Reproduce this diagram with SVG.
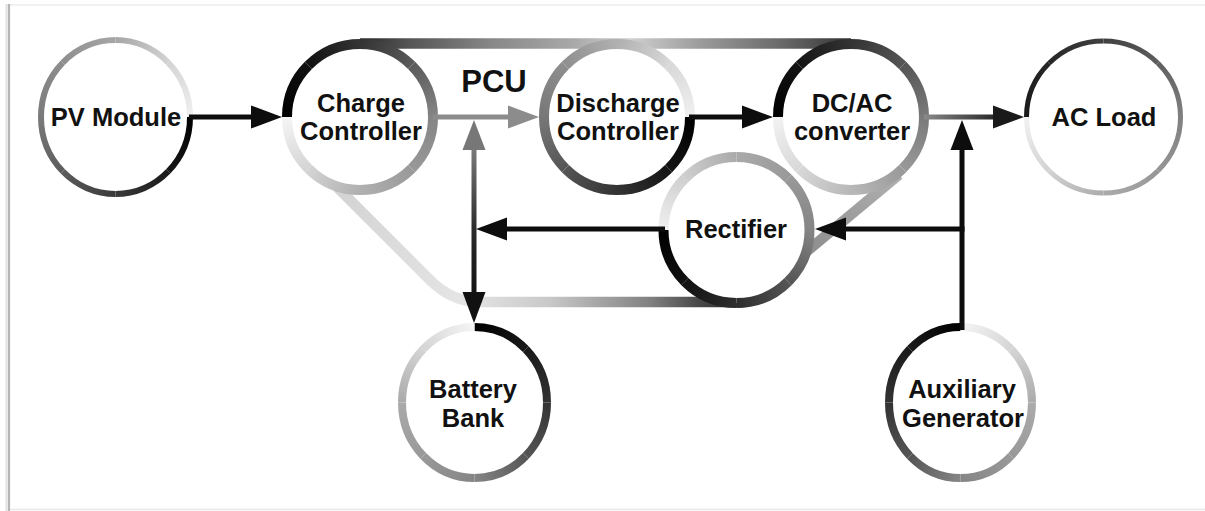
<svg xmlns="http://www.w3.org/2000/svg" width="1205" height="511" viewBox="0 0 1205 511">
<style>
.lbl{font-family:"Liberation Sans",Arial,sans-serif;font-weight:bold;font-size:25.5px;fill:#111;text-anchor:middle}
.pcu{font-family:"Liberation Sans",Arial,sans-serif;font-weight:bold;font-size:31px;fill:#111;text-anchor:middle}
.s10{fill:none;stroke-width:10}
.s8{fill:none;stroke-width:8}
.s6{fill:none;stroke-width:6}
.s5{fill:none;stroke-width:5}
.band{fill:none;stroke-width:10.5}
.ln{fill:none;stroke-width:5}
.bk{stroke:#0d0d0d}
.hbk{fill:#0d0d0d}
.fill{fill:#fff;stroke:none}
</style>
<defs>
<!-- PV -->
<linearGradient id="v0" gradientUnits="userSpaceOnUse" x1="190" y1="117" x2="168.18" y2="171.45"><stop offset="0" stop-color="#000"/><stop offset="1" stop-color="#181818"/></linearGradient>
<linearGradient id="v1" gradientUnits="userSpaceOnUse" x1="168.18" y1="171.45" x2="115.5" y2="194"><stop offset="0" stop-color="#181818"/><stop offset="1" stop-color="#3a3a3a"/></linearGradient>
<linearGradient id="v2" gradientUnits="userSpaceOnUse" x1="115.5" y1="194" x2="62.82" y2="171.45"><stop offset="0" stop-color="#3a3a3a"/><stop offset="1" stop-color="#5c5c5c"/></linearGradient>
<linearGradient id="v3" gradientUnits="userSpaceOnUse" x1="62.82" y1="171.45" x2="41" y2="117"><stop offset="0" stop-color="#5c5c5c"/><stop offset="1" stop-color="#7a7a7a"/></linearGradient>
<linearGradient id="v4" gradientUnits="userSpaceOnUse" x1="41" y1="117" x2="62.82" y2="62.55"><stop offset="0" stop-color="#7a7a7a"/><stop offset="1" stop-color="#8e8e8e"/></linearGradient>
<linearGradient id="v5" gradientUnits="userSpaceOnUse" x1="62.82" y1="62.55" x2="115.5" y2="40"><stop offset="0" stop-color="#8e8e8e"/><stop offset="1" stop-color="#a6a6a6"/></linearGradient>
<linearGradient id="v6" gradientUnits="userSpaceOnUse" x1="115.5" y1="40" x2="168.18" y2="62.55"><stop offset="0" stop-color="#a6a6a6"/><stop offset="1" stop-color="#d4d4d4"/></linearGradient>
<linearGradient id="v7" gradientUnits="userSpaceOnUse" x1="168.18" y1="62.55" x2="190" y2="117"><stop offset="0" stop-color="#d4d4d4"/><stop offset="1" stop-color="#f0f0f0"/></linearGradient>
<!-- Charge -->
<linearGradient id="c0" gradientUnits="userSpaceOnUse" x1="287" y1="117" x2="308.38" y2="65.38"><stop offset="0" stop-color="#000"/><stop offset="1" stop-color="#111"/></linearGradient>
<linearGradient id="c1" gradientUnits="userSpaceOnUse" x1="308.38" y1="65.38" x2="360" y2="44"><stop offset="0" stop-color="#111"/><stop offset="1" stop-color="#333"/></linearGradient>
<linearGradient id="c2" gradientUnits="userSpaceOnUse" x1="360" y1="44" x2="411.62" y2="65.38"><stop offset="0" stop-color="#333"/><stop offset="1" stop-color="#5a5a5a"/></linearGradient>
<linearGradient id="c3" gradientUnits="userSpaceOnUse" x1="411.62" y1="65.38" x2="433" y2="117"><stop offset="0" stop-color="#5a5a5a"/><stop offset="1" stop-color="#858585"/></linearGradient>
<linearGradient id="c4" gradientUnits="userSpaceOnUse" x1="433" y1="117" x2="411.62" y2="168.62"><stop offset="0" stop-color="#858585"/><stop offset="1" stop-color="#999"/></linearGradient>
<linearGradient id="c5" gradientUnits="userSpaceOnUse" x1="411.62" y1="168.62" x2="360" y2="190"><stop offset="0" stop-color="#999"/><stop offset="1" stop-color="#b0b0b0"/></linearGradient>
<linearGradient id="c6" gradientUnits="userSpaceOnUse" x1="360" y1="190" x2="308.38" y2="168.62"><stop offset="0" stop-color="#b0b0b0"/><stop offset="1" stop-color="#d4d4d4"/></linearGradient>
<linearGradient id="c7" gradientUnits="userSpaceOnUse" x1="308.38" y1="168.62" x2="287" y2="117"><stop offset="0" stop-color="#d4d4d4"/><stop offset="1" stop-color="#f5f5f5"/></linearGradient>
<!-- Discharge -->
<linearGradient id="d0" gradientUnits="userSpaceOnUse" x1="690" y1="117" x2="668.62" y2="168.62"><stop offset="0" stop-color="#000"/><stop offset="1" stop-color="#141414"/></linearGradient>
<linearGradient id="d1" gradientUnits="userSpaceOnUse" x1="668.62" y1="168.62" x2="617" y2="190"><stop offset="0" stop-color="#141414"/><stop offset="1" stop-color="#333"/></linearGradient>
<linearGradient id="d2" gradientUnits="userSpaceOnUse" x1="617" y1="190" x2="565.38" y2="168.62"><stop offset="0" stop-color="#333"/><stop offset="1" stop-color="#555"/></linearGradient>
<linearGradient id="d3" gradientUnits="userSpaceOnUse" x1="565.38" y1="168.62" x2="544" y2="117"><stop offset="0" stop-color="#555"/><stop offset="1" stop-color="#777"/></linearGradient>
<linearGradient id="d4" gradientUnits="userSpaceOnUse" x1="544" y1="117" x2="565.38" y2="65.38"><stop offset="0" stop-color="#777"/><stop offset="1" stop-color="#8f8f8f"/></linearGradient>
<linearGradient id="d5" gradientUnits="userSpaceOnUse" x1="565.38" y1="65.38" x2="617" y2="44"><stop offset="0" stop-color="#8f8f8f"/><stop offset="1" stop-color="#b0b0b0"/></linearGradient>
<linearGradient id="d6" gradientUnits="userSpaceOnUse" x1="617" y1="44" x2="668.62" y2="65.38"><stop offset="0" stop-color="#b0b0b0"/><stop offset="1" stop-color="#d8d8d8"/></linearGradient>
<linearGradient id="d7" gradientUnits="userSpaceOnUse" x1="668.62" y1="65.38" x2="690" y2="117"><stop offset="0" stop-color="#d8d8d8"/><stop offset="1" stop-color="#f0f0f0"/></linearGradient>
<!-- DC/AC -->
<linearGradient id="e0" gradientUnits="userSpaceOnUse" x1="778" y1="117" x2="799.38" y2="65.38"><stop offset="0" stop-color="#000"/><stop offset="1" stop-color="#141414"/></linearGradient>
<linearGradient id="e1" gradientUnits="userSpaceOnUse" x1="799.38" y1="65.38" x2="851" y2="44"><stop offset="0" stop-color="#141414"/><stop offset="1" stop-color="#333"/></linearGradient>
<linearGradient id="e2" gradientUnits="userSpaceOnUse" x1="851" y1="44" x2="902.62" y2="65.38"><stop offset="0" stop-color="#333"/><stop offset="1" stop-color="#555"/></linearGradient>
<linearGradient id="e3" gradientUnits="userSpaceOnUse" x1="902.62" y1="65.38" x2="924" y2="117"><stop offset="0" stop-color="#555"/><stop offset="1" stop-color="#7a7a7a"/></linearGradient>
<linearGradient id="e4" gradientUnits="userSpaceOnUse" x1="924" y1="117" x2="902.62" y2="168.62"><stop offset="0" stop-color="#7a7a7a"/><stop offset="1" stop-color="#999"/></linearGradient>
<linearGradient id="e5" gradientUnits="userSpaceOnUse" x1="902.62" y1="168.62" x2="851" y2="190"><stop offset="0" stop-color="#999"/><stop offset="1" stop-color="#b8b8b8"/></linearGradient>
<linearGradient id="e6" gradientUnits="userSpaceOnUse" x1="851" y1="190" x2="799.38" y2="168.62"><stop offset="0" stop-color="#b8b8b8"/><stop offset="1" stop-color="#d8d8d8"/></linearGradient>
<linearGradient id="e7" gradientUnits="userSpaceOnUse" x1="799.38" y1="168.62" x2="778" y2="117"><stop offset="0" stop-color="#d8d8d8"/><stop offset="1" stop-color="#f2f2f2"/></linearGradient>
<!-- AC Load -->
<linearGradient id="l0" gradientUnits="userSpaceOnUse" x1="1026.5" y1="117" x2="1049.05" y2="63.26"><stop offset="0" stop-color="#1a1a1a"/><stop offset="1" stop-color="#262626"/></linearGradient>
<linearGradient id="l1" gradientUnits="userSpaceOnUse" x1="1049.05" y1="63.26" x2="1103.5" y2="41"><stop offset="0" stop-color="#262626"/><stop offset="1" stop-color="#404040"/></linearGradient>
<linearGradient id="l2" gradientUnits="userSpaceOnUse" x1="1103.5" y1="41" x2="1157.95" y2="63.26"><stop offset="0" stop-color="#404040"/><stop offset="1" stop-color="#5e5e5e"/></linearGradient>
<linearGradient id="l3" gradientUnits="userSpaceOnUse" x1="1157.95" y1="63.26" x2="1180.5" y2="117"><stop offset="0" stop-color="#5e5e5e"/><stop offset="1" stop-color="#808080"/></linearGradient>
<linearGradient id="l4" gradientUnits="userSpaceOnUse" x1="1180.5" y1="117" x2="1157.95" y2="170.74"><stop offset="0" stop-color="#808080"/><stop offset="1" stop-color="#969696"/></linearGradient>
<linearGradient id="l5" gradientUnits="userSpaceOnUse" x1="1157.95" y1="170.74" x2="1103.5" y2="193"><stop offset="0" stop-color="#969696"/><stop offset="1" stop-color="#ababab"/></linearGradient>
<linearGradient id="l6" gradientUnits="userSpaceOnUse" x1="1103.5" y1="193" x2="1049.05" y2="170.74"><stop offset="0" stop-color="#ababab"/><stop offset="1" stop-color="#d2d2d2"/></linearGradient>
<linearGradient id="l7" gradientUnits="userSpaceOnUse" x1="1049.05" y1="170.74" x2="1026.5" y2="117"><stop offset="0" stop-color="#d2d2d2"/><stop offset="1" stop-color="#f2f2f2"/></linearGradient>
<!-- Rectifier -->
<linearGradient id="r0" gradientUnits="userSpaceOnUse" x1="663.5" y1="230" x2="684.88" y2="281.62"><stop offset="0" stop-color="#000"/><stop offset="1" stop-color="#111"/></linearGradient>
<linearGradient id="r1" gradientUnits="userSpaceOnUse" x1="684.88" y1="281.62" x2="736.5" y2="303"><stop offset="0" stop-color="#111"/><stop offset="1" stop-color="#2e2e2e"/></linearGradient>
<linearGradient id="r2" gradientUnits="userSpaceOnUse" x1="736.5" y1="303" x2="788.12" y2="281.62"><stop offset="0" stop-color="#2e2e2e"/><stop offset="1" stop-color="#555"/></linearGradient>
<linearGradient id="r3" gradientUnits="userSpaceOnUse" x1="788.12" y1="281.62" x2="809.5" y2="230"><stop offset="0" stop-color="#555"/><stop offset="1" stop-color="#858585"/></linearGradient>
<linearGradient id="r4" gradientUnits="userSpaceOnUse" x1="809.5" y1="230" x2="788.12" y2="178.38"><stop offset="0" stop-color="#858585"/><stop offset="1" stop-color="#999"/></linearGradient>
<linearGradient id="r5" gradientUnits="userSpaceOnUse" x1="788.12" y1="178.38" x2="736.5" y2="157"><stop offset="0" stop-color="#999"/><stop offset="1" stop-color="#aaa"/></linearGradient>
<linearGradient id="r6" gradientUnits="userSpaceOnUse" x1="736.5" y1="157" x2="684.88" y2="178.38"><stop offset="0" stop-color="#aaa"/><stop offset="1" stop-color="#cfcfcf"/></linearGradient>
<linearGradient id="r7" gradientUnits="userSpaceOnUse" x1="684.88" y1="178.38" x2="663.5" y2="230"><stop offset="0" stop-color="#cfcfcf"/><stop offset="1" stop-color="#f0f0f0"/></linearGradient>
<!-- Battery -->
<linearGradient id="b0" gradientUnits="userSpaceOnUse" x1="474.5" y1="327" x2="525.76" y2="349.11"><stop offset="0" stop-color="#000"/><stop offset="1" stop-color="#1a1a1a"/></linearGradient>
<linearGradient id="b1" gradientUnits="userSpaceOnUse" x1="525.76" y1="349.11" x2="547" y2="402.5"><stop offset="0" stop-color="#1a1a1a"/><stop offset="1" stop-color="#333"/></linearGradient>
<linearGradient id="b2" gradientUnits="userSpaceOnUse" x1="547" y1="402.5" x2="525.76" y2="455.89"><stop offset="0" stop-color="#333"/><stop offset="1" stop-color="#555"/></linearGradient>
<linearGradient id="b3" gradientUnits="userSpaceOnUse" x1="525.76" y1="455.89" x2="474.5" y2="478"><stop offset="0" stop-color="#555"/><stop offset="1" stop-color="#858585"/></linearGradient>
<linearGradient id="b4" gradientUnits="userSpaceOnUse" x1="474.5" y1="478" x2="423.24" y2="455.89"><stop offset="0" stop-color="#858585"/><stop offset="1" stop-color="#999"/></linearGradient>
<linearGradient id="b5" gradientUnits="userSpaceOnUse" x1="423.24" y1="455.89" x2="402" y2="402.5"><stop offset="0" stop-color="#999"/><stop offset="1" stop-color="#aaa"/></linearGradient>
<linearGradient id="b6" gradientUnits="userSpaceOnUse" x1="402" y1="402.5" x2="423.24" y2="349.11"><stop offset="0" stop-color="#aaa"/><stop offset="1" stop-color="#d5d5d5"/></linearGradient>
<linearGradient id="b7" gradientUnits="userSpaceOnUse" x1="423.24" y1="349.11" x2="474.5" y2="327"><stop offset="0" stop-color="#d5d5d5"/><stop offset="1" stop-color="#f5f5f5"/></linearGradient>
<!-- Aux -->
<linearGradient id="x0" gradientUnits="userSpaceOnUse" x1="960.5" y1="327" x2="909.94" y2="349.11"><stop offset="0" stop-color="#000"/><stop offset="1" stop-color="#1a1a1a"/></linearGradient>
<linearGradient id="x1" gradientUnits="userSpaceOnUse" x1="909.94" y1="349.11" x2="889" y2="402.5"><stop offset="0" stop-color="#1a1a1a"/><stop offset="1" stop-color="#333"/></linearGradient>
<linearGradient id="x2" gradientUnits="userSpaceOnUse" x1="889" y1="402.5" x2="909.94" y2="455.89"><stop offset="0" stop-color="#333"/><stop offset="1" stop-color="#555"/></linearGradient>
<linearGradient id="x3" gradientUnits="userSpaceOnUse" x1="909.94" y1="455.89" x2="960.5" y2="478"><stop offset="0" stop-color="#555"/><stop offset="1" stop-color="#858585"/></linearGradient>
<linearGradient id="x4" gradientUnits="userSpaceOnUse" x1="960.5" y1="478" x2="1011.06" y2="455.89"><stop offset="0" stop-color="#858585"/><stop offset="1" stop-color="#999"/></linearGradient>
<linearGradient id="x5" gradientUnits="userSpaceOnUse" x1="1011.06" y1="455.89" x2="1032" y2="402.5"><stop offset="0" stop-color="#999"/><stop offset="1" stop-color="#ababab"/></linearGradient>
<linearGradient id="x6" gradientUnits="userSpaceOnUse" x1="1032" y1="402.5" x2="1011.06" y2="349.11"><stop offset="0" stop-color="#ababab"/><stop offset="1" stop-color="#d5d5d5"/></linearGradient>
<linearGradient id="x7" gradientUnits="userSpaceOnUse" x1="1011.06" y1="349.11" x2="960.5" y2="327"><stop offset="0" stop-color="#d5d5d5"/><stop offset="1" stop-color="#f5f5f5"/></linearGradient>
<!-- PCU band -->
<linearGradient id="bandTop" gradientUnits="userSpaceOnUse" x1="360" y1="0" x2="851" y2="0"><stop offset="0" stop-color="#2a2a2a"/><stop offset="0.1" stop-color="#555"/><stop offset="0.27" stop-color="#888"/><stop offset="0.44" stop-color="#aaa"/><stop offset="0.55" stop-color="#d0d0d0"/><stop offset="0.7" stop-color="#999"/><stop offset="0.87" stop-color="#666"/><stop offset="1" stop-color="#333"/></linearGradient>
<linearGradient id="bandLeft" gradientUnits="userSpaceOnUse" x1="310" y1="160" x2="480" y2="302"><stop offset="0" stop-color="#cfcfcf"/><stop offset="1" stop-color="#e6e6e6"/></linearGradient>
<linearGradient id="bandBot" gradientUnits="userSpaceOnUse" x1="470" y1="0" x2="736" y2="0"><stop offset="0" stop-color="#e4e4e4"/><stop offset="0.3" stop-color="#c8c8c8"/><stop offset="0.55" stop-color="#999"/><stop offset="0.68" stop-color="#808080"/><stop offset="0.85" stop-color="#4a4a4a"/><stop offset="1" stop-color="#2e2e2e"/></linearGradient>
<linearGradient id="bandRight" gradientUnits="userSpaceOnUse" x1="746" y1="302" x2="899" y2="174.6"><stop offset="0" stop-color="#777"/><stop offset="1" stop-color="#b0b0b0"/></linearGradient>
<!-- connectors -->
<linearGradient id="acLine" gradientUnits="userSpaceOnUse" x1="924" y1="0" x2="1000" y2="0"><stop offset="0" stop-color="#8a8a8a"/><stop offset="1" stop-color="#222"/></linearGradient>
<linearGradient id="batLine" gradientUnits="userSpaceOnUse" x1="0" y1="148" x2="0" y2="300"><stop offset="0" stop-color="#7a7a7a"/><stop offset="0.55" stop-color="#2a2a2a"/><stop offset="1" stop-color="#111"/></linearGradient>
</defs>

<rect x="0" y="0" width="1205" height="511" fill="#fff"/>
<g id="frame">
<line x1="9" y1="5" x2="1205" y2="5" stroke="#ececec" stroke-width="1.5"/>
<line x1="9" y1="509.5" x2="1205" y2="509.5" stroke="#e8e8e8" stroke-width="1.5"/>
<line x1="6.5" y1="4" x2="6.5" y2="511" stroke="#e2e2e2" stroke-width="2"/>
<line x1="9" y1="4" x2="9" y2="511" stroke="#b5b5b5" stroke-width="2.2"/>
</g>

<g id="pcu">
<path class="band" d="M360,43.5 H851" stroke="url(#bandTop)"/>
<path class="band" d="M310,160 L430,280 Q452,302 480,302" stroke="url(#bandLeft)"/>
<path class="band" d="M479,302 H742" stroke="url(#bandBot)"/>
<path class="band" d="M746,302 L899,174.6" stroke="url(#bandRight)"/>
<text class="pcu" x="494" y="92">PCU</text>
</g>

<g id="pv-module">
<ellipse class="fill" cx="115.5" cy="117" rx="74.5" ry="77"/>
<path class="s6" stroke="url(#v0)" d="M190,117 A74.5,77 0 0 1 168.18,171.45"/>
<path class="s6" stroke="url(#v1)" d="M168.18,171.45 A74.5,77 0 0 1 115.5,194"/>
<path class="s6" stroke="url(#v2)" d="M115.5,194 A74.5,77 0 0 1 62.82,171.45"/>
<path class="s6" stroke="url(#v3)" d="M62.82,171.45 A74.5,77 0 0 1 41,117"/>
<path class="s6" stroke="url(#v4)" d="M41,117 A74.5,77 0 0 1 62.82,62.55"/>
<path class="s6" stroke="url(#v5)" d="M62.82,62.55 A74.5,77 0 0 1 115.5,40"/>
<path class="s6" stroke="url(#v6)" d="M115.5,40 A74.5,77 0 0 1 168.18,62.55"/>
<path class="s6" stroke="url(#v7)" d="M168.18,62.55 A74.5,77 0 0 1 190,117"/>
<text class="lbl" x="116" y="126">PV Module</text>
</g>

<g id="charge-controller">
<circle class="fill" cx="360" cy="117" r="73"/>
<path class="s10" stroke="url(#c0)" d="M287,117 A73,73 0 0 1 308.38,65.38"/>
<path class="s10" stroke="url(#c1)" d="M308.38,65.38 A73,73 0 0 1 360,44"/>
<path class="s10" stroke="url(#c2)" d="M360,44 A73,73 0 0 1 411.62,65.38"/>
<path class="s10" stroke="url(#c3)" d="M411.62,65.38 A73,73 0 0 1 433,117"/>
<path class="s10" stroke="url(#c4)" d="M433,117 A73,73 0 0 1 411.62,168.62"/>
<path class="s10" stroke="url(#c5)" d="M411.62,168.62 A73,73 0 0 1 360,190"/>
<path class="s10" stroke="url(#c6)" d="M360,190 A73,73 0 0 1 308.38,168.62"/>
<path class="s10" stroke="url(#c7)" d="M308.38,168.62 A73,73 0 0 1 287,117"/>
<text class="lbl" x="361" y="112">Charge</text>
<text class="lbl" x="361" y="140">Controller</text>
</g>

<g id="discharge-controller">
<circle class="fill" cx="617" cy="117" r="73"/>
<path class="s10" stroke="url(#d0)" d="M690,117 A73,73 0 0 1 668.62,168.62"/>
<path class="s10" stroke="url(#d1)" d="M668.62,168.62 A73,73 0 0 1 617,190"/>
<path class="s10" stroke="url(#d2)" d="M617,190 A73,73 0 0 1 565.38,168.62"/>
<path class="s10" stroke="url(#d3)" d="M565.38,168.62 A73,73 0 0 1 544,117"/>
<path class="s10" stroke="url(#d4)" d="M544,117 A73,73 0 0 1 565.38,65.38"/>
<path class="s10" stroke="url(#d5)" d="M565.38,65.38 A73,73 0 0 1 617,44"/>
<path class="s10" stroke="url(#d6)" d="M617,44 A73,73 0 0 1 668.62,65.38"/>
<path class="s10" stroke="url(#d7)" d="M668.62,65.38 A73,73 0 0 1 690,117"/>
<text class="lbl" x="618" y="112">Discharge</text>
<text class="lbl" x="618" y="140">Controller</text>
</g>

<g id="dc-ac-converter">
<circle class="fill" cx="851" cy="117" r="73"/>
<path class="s10" stroke="url(#e0)" d="M778,117 A73,73 0 0 1 799.38,65.38"/>
<path class="s10" stroke="url(#e1)" d="M799.38,65.38 A73,73 0 0 1 851,44"/>
<path class="s10" stroke="url(#e2)" d="M851,44 A73,73 0 0 1 902.62,65.38"/>
<path class="s10" stroke="url(#e3)" d="M902.62,65.38 A73,73 0 0 1 924,117"/>
<path class="s10" stroke="url(#e4)" d="M924,117 A73,73 0 0 1 902.62,168.62"/>
<path class="s10" stroke="url(#e5)" d="M902.62,168.62 A73,73 0 0 1 851,190"/>
<path class="s10" stroke="url(#e6)" d="M851,190 A73,73 0 0 1 799.38,168.62"/>
<path class="s10" stroke="url(#e7)" d="M799.38,168.62 A73,73 0 0 1 778,117"/>
<text class="lbl" x="852" y="112">DC/AC</text>
<text class="lbl" x="852" y="140">converter</text>
</g>

<g id="ac-load">
<ellipse class="fill" cx="1103.5" cy="117" rx="77" ry="76"/>
<path class="s5" stroke="url(#l0)" d="M1026.5,117 A77,76 0 0 1 1049.05,63.26"/>
<path class="s5" stroke="url(#l1)" d="M1049.05,63.26 A77,76 0 0 1 1103.5,41"/>
<path class="s5" stroke="url(#l2)" d="M1103.5,41 A77,76 0 0 1 1157.95,63.26"/>
<path class="s5" stroke="url(#l3)" d="M1157.95,63.26 A77,76 0 0 1 1180.5,117"/>
<path class="s5" stroke="url(#l4)" d="M1180.5,117 A77,76 0 0 1 1157.95,170.74"/>
<path class="s5" stroke="url(#l5)" d="M1157.95,170.74 A77,76 0 0 1 1103.5,193"/>
<path class="s5" stroke="url(#l6)" d="M1103.5,193 A77,76 0 0 1 1049.05,170.74"/>
<path class="s5" stroke="url(#l7)" d="M1049.05,170.74 A77,76 0 0 1 1026.5,117"/>
<text class="lbl" x="1104" y="126">AC Load</text>
</g>

<g id="rectifier">
<circle class="fill" cx="736.5" cy="230" r="73"/>
<path class="s10" stroke="url(#r0)" d="M663.5,230 A73,73 0 0 0 684.88,281.62"/>
<path class="s10" stroke="url(#r1)" d="M684.88,281.62 A73,73 0 0 0 736.5,303"/>
<path class="s10" stroke="url(#r2)" d="M736.5,303 A73,73 0 0 0 788.12,281.62"/>
<path class="s10" stroke="url(#r3)" d="M788.12,281.62 A73,73 0 0 0 809.5,230"/>
<path class="s10" stroke="url(#r4)" d="M809.5,230 A73,73 0 0 0 788.12,178.38"/>
<path class="s10" stroke="url(#r5)" d="M788.12,178.38 A73,73 0 0 0 736.5,157"/>
<path class="s10" stroke="url(#r6)" d="M736.5,157 A73,73 0 0 0 684.88,178.38"/>
<path class="s10" stroke="url(#r7)" d="M684.88,178.38 A73,73 0 0 0 663.5,230"/>
<text class="lbl" x="736" y="238">Rectifier</text>
</g>

<g id="battery-bank">
<ellipse class="fill" cx="474.5" cy="402.5" rx="72.5" ry="75.5"/>
<path class="s8" stroke="url(#b0)" d="M474.5,327 A72.5,75.5 0 0 1 525.76,349.11"/>
<path class="s8" stroke="url(#b1)" d="M525.76,349.11 A72.5,75.5 0 0 1 547,402.5"/>
<path class="s8" stroke="url(#b2)" d="M547,402.5 A72.5,75.5 0 0 1 525.76,455.89"/>
<path class="s8" stroke="url(#b3)" d="M525.76,455.89 A72.5,75.5 0 0 1 474.5,478"/>
<path class="s8" stroke="url(#b4)" d="M474.5,478 A72.5,75.5 0 0 1 423.24,455.89"/>
<path class="s8" stroke="url(#b5)" d="M423.24,455.89 A72.5,75.5 0 0 1 402,402.5"/>
<path class="s8" stroke="url(#b6)" d="M402,402.5 A72.5,75.5 0 0 1 423.24,349.11"/>
<path class="s8" stroke="url(#b7)" d="M423.24,349.11 A72.5,75.5 0 0 1 474.5,327"/>
<text class="lbl" x="473" y="398">Battery</text>
<text class="lbl" x="473" y="427">Bank</text>
</g>

<g id="auxiliary-generator">
<ellipse class="fill" cx="960.5" cy="402.5" rx="71.5" ry="75.5"/>
<path class="s8" stroke="url(#x0)" d="M960.5,327 A71.5,75.5 0 0 0 909.94,349.11"/>
<path class="s8" stroke="url(#x1)" d="M909.94,349.11 A71.5,75.5 0 0 0 889,402.5"/>
<path class="s8" stroke="url(#x2)" d="M889,402.5 A71.5,75.5 0 0 0 909.94,455.89"/>
<path class="s8" stroke="url(#x3)" d="M909.94,455.89 A71.5,75.5 0 0 0 960.5,478"/>
<path class="s8" stroke="url(#x4)" d="M960.5,478 A71.5,75.5 0 0 0 1011.06,455.89"/>
<path class="s8" stroke="url(#x5)" d="M1011.06,455.89 A71.5,75.5 0 0 0 1032,402.5"/>
<path class="s8" stroke="url(#x6)" d="M1032,402.5 A71.5,75.5 0 0 0 1011.06,349.11"/>
<path class="s8" stroke="url(#x7)" d="M1011.06,349.11 A71.5,75.5 0 0 0 960.5,327"/>
<text class="lbl" x="962" y="398">Auxiliary</text>
<text class="lbl" x="963" y="427">Generator</text>
</g>

<g id="connectors">
<!-- PV -> Charge -->
<path class="ln bk" d="M189,117 H253"/>
<polygon class="hbk" points="282,117 251,105.5 251,128.5"/>
<!-- Charge -> Discharge -->
<path class="ln" stroke="#8c8c8c" d="M433,117 H510"/>
<polygon fill="#8c8c8c" points="539,117 508,105.5 508,128.5"/>
<!-- Discharge -> DC/AC -->
<path class="ln bk" d="M689,117 H744"/>
<polygon class="hbk" points="773,117 742,105.5 742,128.5"/>
<!-- DC/AC -> AC Load -->
<path class="ln" stroke="url(#acLine)" d="M924,117 H995"/>
<polygon fill="#1a1a1a" points="1024,117 993,105.5 993,128.5"/>
<!-- Auxiliary Generator -> AC line and Rectifier -->
<path class="ln bk" d="M962,330 V148"/>
<polygon class="hbk" points="962,120 950.5,150 973.5,150"/>
<path class="ln bk" d="M964.5,229 H845"/>
<polygon class="hbk" points="815,229 846,217.5 846,240.5"/>
<!-- Rectifier -> battery line -->
<path class="ln bk" d="M665,229 H505"/>
<polygon class="hbk" points="476,229 507,217.5 507,240.5"/>
<!-- battery bus -->
<path class="ln" stroke="url(#batLine)" d="M474,148 V294"/>
<polygon fill="#777" points="474,120 462.5,150 485.5,150"/>
<polygon fill="#111" points="474,323 462.5,292 485.5,292"/>
</g>
</svg>
